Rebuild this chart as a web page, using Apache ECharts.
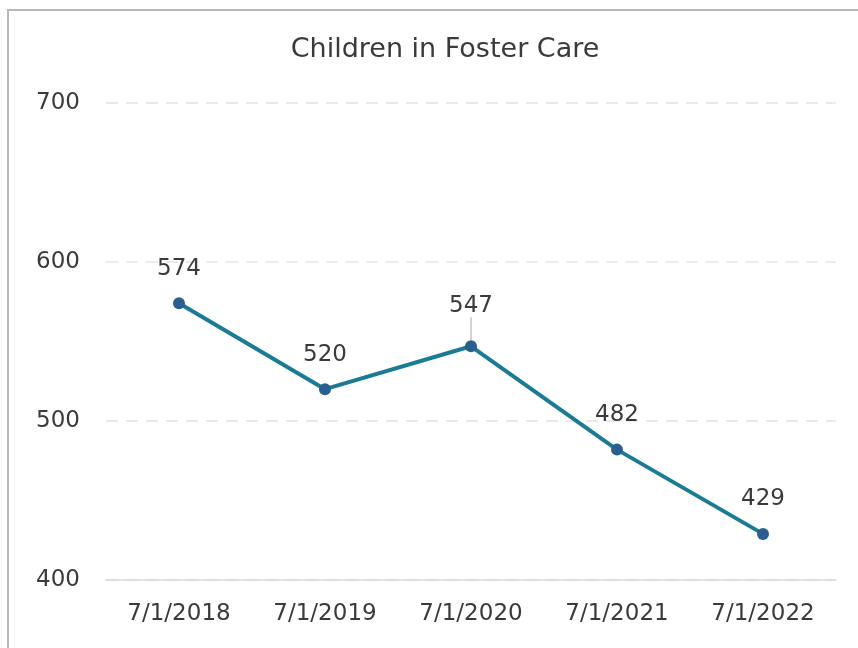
<!DOCTYPE html>
<html>
<head>
<meta charset="utf-8">
<script src="https://cdn.jsdelivr.net/npm/echarts@6/dist/echarts.min.js"></script>
<style>
  html, body { margin: 0; padding: 0; background: #fff; }
  #chart { width: 858px; height: 648px; }
</style>
</head>
<body>
<div id="chart"></div>
<script>
// Point-in-time counts of children in foster care
const categories = ['7/1/2018', '7/1/2019', '7/1/2020', '7/1/2021', '7/1/2022'];
const children = [574, 520, 547, 482, 429];
const yTicks = [400, 500, 600, 700];

const FONT = '"DejaVu Sans", "Open Sans", sans-serif';
const TEXT = '#3a3a3a';

const chart = echarts.init(document.getElementById('chart'), null, { renderer: 'canvas' });

chart.setOption({
  backgroundColor: '#ffffff',
  animation: false,
  graphic: [{
    type: 'rect',
    shape: { x: 8, y: 10, width: 900, height: 700 },
    style: { fill: 'none', stroke: '#b8b8b8', lineWidth: 2 },
    silent: true
  }],
  title: {
    text: 'Children in Foster Care',
    left: 440,
    top: 31,
    textAlign: 'center',
    textStyle: { fontFamily: FONT, fontSize: 27, fontWeight: 'normal', color: TEXT }
  },
  grid: { left: 106, right: 22, top: 103, bottom: 68, containLabel: false },
  xAxis: {
    type: 'category',
    data: categories,
    boundaryGap: true,
    axisLine: { show: true, lineStyle: { color: '#d9d9d9', width: 1.5 } },
    axisTick: { show: false },
    axisLabel: { fontFamily: FONT, fontSize: 23, color: TEXT, margin: 23 }
  },
  yAxis: {
    type: 'value',
    min: yTicks[0],
    max: yTicks[yTicks.length - 1],
    interval: 100,
    axisLine: { show: false },
    axisTick: { show: false },
    axisLabel: { fontFamily: FONT, fontSize: 23, color: TEXT, margin: 26, align: 'right' },
    splitLine: { show: true, lineStyle: { color: '#e3e3e3', type: [12, 8], width: 1.5 } }
  },
  series: [{
    type: 'line',
    data: children.map((v, i) => i === 2
      ? { value: v, labelLine: { show: true, lineStyle: { color: '#a6a6a6', width: 1 } } }
      : v),
    symbol: 'circle',
    symbolSize: 12,
    itemStyle: { color: '#2a5e8f' },
    lineStyle: { color: '#1b7b95', width: 4 },
    label: {
      show: true,
      position: 'top',
      distance: 17,
      fontFamily: FONT,
      fontSize: 23,
      color: TEXT
    },
    labelLayout: function (p) {
      return p.dataIndex === 2 ? { dy: -6 } : {};
    },
    z: 3
  }]
});
</script>
</body>
</html>
